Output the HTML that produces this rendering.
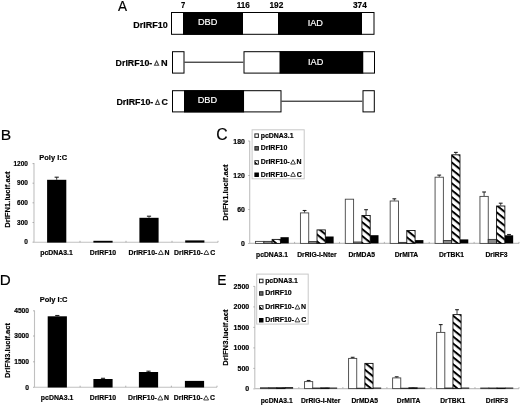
<!DOCTYPE html>
<html><head><meta charset="utf-8"><style>
html,body{margin:0;padding:0;background:#fff;}
svg{display:block;filter:grayscale(100%);}
text{stroke:#000;stroke-width:0.18px;}
text[fill="#fff"]{stroke:#fff;}
svg{font-family:"Liberation Sans",sans-serif;}
</style></head><body>
<svg width="520" height="405" viewBox="0 0 520 405">
<defs><linearGradient id="lgC" x1="0" y1="1" x2="1" y2="0"><stop offset="0.42" stop-color="#000"/><stop offset="0.42" stop-color="#fff"/></linearGradient><pattern id="stC" patternUnits="userSpaceOnUse" width="5.40" height="5.40" patternTransform="rotate(38.7)"><rect width="5.40" height="5.40" fill="#fff"/><rect width="5.40" height="2.00" fill="#000"/></pattern><pattern id="stCs" patternUnits="userSpaceOnUse" width="2.60" height="2.60" patternTransform="rotate(38.7)"><rect width="2.60" height="2.60" fill="#fff"/><rect width="2.60" height="0.96" fill="#000"/></pattern><linearGradient id="lgE" x1="0" y1="1" x2="1" y2="0"><stop offset="0.42" stop-color="#000"/><stop offset="0.42" stop-color="#fff"/></linearGradient><pattern id="stE" patternUnits="userSpaceOnUse" width="5.40" height="5.40" patternTransform="rotate(38.7)"><rect width="5.40" height="5.40" fill="#fff"/><rect width="5.40" height="2.00" fill="#000"/></pattern><pattern id="stEs" patternUnits="userSpaceOnUse" width="2.60" height="2.60" patternTransform="rotate(38.7)"><rect width="2.60" height="2.60" fill="#fff"/><rect width="2.60" height="0.96" fill="#000"/></pattern></defs>
<rect width="520" height="405" fill="#fff"/>
<text transform="translate(117.97,11.00) scale(0.934,1)" font-size="14.53" font-weight="normal" fill="#000">A</text>
<text transform="translate(180.97,7.70) scale(0.892,1)" font-size="8.60" font-weight="bold" fill="#000">7</text>
<text transform="translate(236.69,7.70) scale(0.948,1)" font-size="8.60" font-weight="bold" fill="#000">116</text>
<text transform="translate(269.48,7.70) scale(0.966,1)" font-size="8.60" font-weight="bold" fill="#000">192</text>
<text transform="translate(353.01,7.70) scale(0.964,1)" font-size="8.60" font-weight="bold" fill="#000">374</text>
<text transform="translate(133.20,27.60) scale(1.031,1)" font-size="8.72" font-weight="bold" fill="#000">DrIRF10</text>
<text transform="translate(115.61,66.00) scale(1.011,1)" font-size="8.72" font-weight="bold" fill="#000">DrIRF10-</text>
<polygon points="156.60,60.95 158.65,65.25 154.55,65.25" fill="none" stroke="#444" stroke-width="1.1" stroke-linejoin="miter"/>
<text transform="translate(160.99,66.00) scale(1.053,1)" font-size="8.72" font-weight="bold" fill="#000">N</text>
<text transform="translate(116.41,105.30) scale(1.017,1)" font-size="8.72" font-weight="bold" fill="#000">DrIRF10-</text>
<polygon points="157.50,100.05 159.45,104.45 155.55,104.45" fill="none" stroke="#444" stroke-width="1.1" stroke-linejoin="miter"/>
<text transform="translate(161.54,105.40) scale(1.017,1)" font-size="8.72" font-weight="bold" fill="#000">C</text>
<rect x="171.00" y="12.00" width="12.00" height="22.80" fill="#fff"/>
<rect x="183.00" y="12.00" width="60.00" height="22.80" fill="#000"/>
<rect x="243.00" y="12.00" width="35.00" height="22.80" fill="#fff"/>
<rect x="278.00" y="12.00" width="84.00" height="22.80" fill="#000"/>
<rect x="362.00" y="12.00" width="12.50" height="22.80" fill="#fff"/>
<rect x="171.50" y="12.50" width="202.50" height="21.80" fill="none" stroke="#000" stroke-width="1.0"/>
<text transform="translate(197.93,24.90) scale(1.000,1)" font-size="9.20" font-weight="normal" fill="#fff">DBD</text>
<text transform="translate(307.63,25.80) scale(1.000,1)" font-size="9.20" font-weight="normal" fill="#fff">IAD</text>
<rect x="172.00" y="51.20" width="12.50" height="22.40" fill="#fff"/>
<rect x="172.50" y="51.70" width="11.50" height="21.40" fill="none" stroke="#000" stroke-width="1.0"/>
<line x1="184.50" y1="62.20" x2="243.50" y2="62.20" stroke="#000" stroke-width="1.0"/>
<rect x="243.50" y="51.20" width="36.00" height="22.40" fill="#fff"/>
<rect x="279.50" y="51.20" width="84.00" height="22.40" fill="#000"/>
<rect x="363.50" y="51.20" width="11.50" height="22.40" fill="#fff"/>
<rect x="244.00" y="51.70" width="130.50" height="21.40" fill="none" stroke="#000" stroke-width="1.0"/>
<text transform="translate(308.03,64.80) scale(1.000,1)" font-size="9.20" font-weight="normal" fill="#fff">IAD</text>
<rect x="172.00" y="90.20" width="12.00" height="22.20" fill="#fff"/>
<rect x="184.00" y="90.20" width="60.20" height="22.20" fill="#000"/>
<rect x="244.20" y="90.20" width="37.30" height="22.20" fill="#fff"/>
<rect x="172.50" y="90.70" width="108.50" height="21.20" fill="none" stroke="#000" stroke-width="1.0"/>
<line x1="281.50" y1="101.20" x2="362.50" y2="101.20" stroke="#000" stroke-width="1.0"/>
<rect x="362.50" y="90.20" width="12.30" height="22.20" fill="#fff"/>
<rect x="363.00" y="90.70" width="11.30" height="21.20" fill="none" stroke="#000" stroke-width="1.0"/>
<text transform="translate(197.73,103.00) scale(1.000,1)" font-size="9.20" font-weight="normal" fill="#fff">DBD</text>
<text transform="translate(0.72,139.50) scale(1.022,1)" font-size="15.26" font-weight="normal" fill="#000">B</text>
<text transform="translate(39.30,159.90) scale(0.955,1)" font-size="7.85" font-weight="bold" fill="#000">Poly I:C</text>
<line x1="34.00" y1="163.00" x2="34.00" y2="242.30" stroke="#c0c0c0" stroke-width="1.1"/>
<line x1="34.00" y1="242.30" x2="218.00" y2="242.30" stroke="#c0c0c0" stroke-width="1.1"/>
<text transform="translate(13.51,165.64) scale(1.000,1)" font-size="6.50" font-weight="bold" fill="#000">1200</text>
<line x1="32.50" y1="163.60" x2="34.00" y2="163.60" stroke="#a0a0a0" stroke-width="0.8"/>
<text transform="translate(17.12,185.24) scale(1.000,1)" font-size="6.50" font-weight="bold" fill="#000">900</text>
<line x1="32.50" y1="183.20" x2="34.00" y2="183.20" stroke="#a0a0a0" stroke-width="0.8"/>
<text transform="translate(17.12,204.84) scale(1.000,1)" font-size="6.50" font-weight="bold" fill="#000">600</text>
<line x1="32.50" y1="202.80" x2="34.00" y2="202.80" stroke="#a0a0a0" stroke-width="0.8"/>
<text transform="translate(17.12,224.54) scale(1.000,1)" font-size="6.50" font-weight="bold" fill="#000">300</text>
<line x1="32.50" y1="222.50" x2="34.00" y2="222.50" stroke="#a0a0a0" stroke-width="0.8"/>
<text transform="translate(24.35,244.24) scale(1.000,1)" font-size="6.50" font-weight="bold" fill="#000">0</text>
<line x1="32.50" y1="242.20" x2="34.00" y2="242.20" stroke="#a0a0a0" stroke-width="0.8"/>
<line x1="80.00" y1="240.80" x2="80.00" y2="242.30" stroke="#a0a0a0" stroke-width="0.8"/>
<line x1="126.00" y1="240.80" x2="126.00" y2="242.30" stroke="#a0a0a0" stroke-width="0.8"/>
<line x1="172.00" y1="240.80" x2="172.00" y2="242.30" stroke="#a0a0a0" stroke-width="0.8"/>
<line x1="218.00" y1="240.80" x2="218.00" y2="242.30" stroke="#a0a0a0" stroke-width="0.8"/>
<rect x="47.10" y="179.80" width="19.20" height="62.80" fill="#000"/>
<line x1="56.70" y1="179.80" x2="56.70" y2="177.20" stroke="#222" stroke-width="0.9"/>
<line x1="54.60" y1="177.20" x2="58.80" y2="177.20" stroke="#222" stroke-width="1.1"/>
<rect x="93.40" y="240.80" width="19.20" height="1.80" fill="#000"/>
<rect x="139.40" y="217.80" width="19.20" height="24.80" fill="#000"/>
<line x1="149.00" y1="217.80" x2="149.00" y2="216.20" stroke="#222" stroke-width="0.9"/>
<line x1="146.90" y1="216.20" x2="151.10" y2="216.20" stroke="#222" stroke-width="1.1"/>
<rect x="185.20" y="240.40" width="19.20" height="2.20" fill="#000"/>
<text transform="translate(40.27,254.80) scale(1.000,1)" font-size="6.90" font-weight="bold" fill="#000">pcDNA3.1</text>
<text transform="translate(89.68,254.80) scale(1.000,1)" font-size="6.90" font-weight="bold" fill="#000">DrIRF10</text>
<text x="128.55" y="254.80" font-size="6.90" font-weight="bold" fill="#000">DrIRF10-</text>
<polygon points="160.83,250.18 163.31,254.47 158.36,254.47" fill="none" stroke="#222" stroke-width="0.85" stroke-linejoin="miter"/>
<text x="164.47" y="254.80" font-size="6.90" font-weight="bold" fill="#000">N</text>
<text x="174.12" y="254.80" font-size="6.90" font-weight="bold" fill="#000">DrIRF10-</text>
<polygon points="206.40,250.18 208.88,254.47 203.93,254.47" fill="none" stroke="#222" stroke-width="0.85" stroke-linejoin="miter"/>
<text x="210.22" y="254.80" font-size="6.90" font-weight="bold" fill="#000">C</text>
<text transform="translate(9.80,227.85) rotate(-90)" font-size="7.7" font-weight="bold">DrIFN1.lucif.act</text>
<text transform="translate(-0.25,284.80) scale(1.015,1)" font-size="14.97" font-weight="normal" fill="#000">D</text>
<text transform="translate(39.70,302.30) scale(0.973,1)" font-size="7.70" font-weight="bold" fill="#000">Poly I:C</text>
<line x1="34.50" y1="310.50" x2="34.50" y2="387.20" stroke="#c0c0c0" stroke-width="1.1"/>
<line x1="34.50" y1="387.20" x2="217.00" y2="387.20" stroke="#c0c0c0" stroke-width="1.1"/>
<text transform="translate(14.17,313.10) scale(1.000,1)" font-size="6.70" font-weight="bold" fill="#000">4500</text>
<line x1="33.00" y1="310.80" x2="34.50" y2="310.80" stroke="#a0a0a0" stroke-width="0.8"/>
<text transform="translate(14.17,338.30) scale(1.000,1)" font-size="6.70" font-weight="bold" fill="#000">3000</text>
<line x1="33.00" y1="336.00" x2="34.50" y2="336.00" stroke="#a0a0a0" stroke-width="0.8"/>
<text transform="translate(14.17,364.10) scale(1.000,1)" font-size="6.70" font-weight="bold" fill="#000">1500</text>
<line x1="33.00" y1="361.80" x2="34.50" y2="361.80" stroke="#a0a0a0" stroke-width="0.8"/>
<text transform="translate(25.35,389.60) scale(1.000,1)" font-size="6.70" font-weight="bold" fill="#000">0</text>
<line x1="33.00" y1="387.30" x2="34.50" y2="387.30" stroke="#a0a0a0" stroke-width="0.8"/>
<line x1="80.12" y1="385.70" x2="80.12" y2="387.20" stroke="#a0a0a0" stroke-width="0.8"/>
<line x1="125.75" y1="385.70" x2="125.75" y2="387.20" stroke="#a0a0a0" stroke-width="0.8"/>
<line x1="171.38" y1="385.70" x2="171.38" y2="387.20" stroke="#a0a0a0" stroke-width="0.8"/>
<line x1="217.00" y1="385.70" x2="217.00" y2="387.20" stroke="#a0a0a0" stroke-width="0.8"/>
<rect x="47.70" y="316.30" width="19.20" height="71.20" fill="#000"/>
<line x1="57.30" y1="316.30" x2="57.30" y2="315.50" stroke="#222" stroke-width="0.9"/>
<line x1="55.20" y1="315.50" x2="59.40" y2="315.50" stroke="#222" stroke-width="1.1"/>
<rect x="93.40" y="379.00" width="19.20" height="8.50" fill="#000"/>
<line x1="103.00" y1="379.00" x2="103.00" y2="378.30" stroke="#222" stroke-width="0.9"/>
<line x1="100.90" y1="378.30" x2="105.10" y2="378.30" stroke="#222" stroke-width="1.1"/>
<rect x="138.90" y="372.00" width="19.20" height="15.50" fill="#000"/>
<line x1="148.50" y1="372.00" x2="148.50" y2="371.20" stroke="#222" stroke-width="0.9"/>
<line x1="146.40" y1="371.20" x2="150.60" y2="371.20" stroke="#222" stroke-width="1.1"/>
<rect x="184.90" y="380.90" width="19.20" height="6.60" fill="#000"/>
<text transform="translate(40.87,400.30) scale(1.000,1)" font-size="6.90" font-weight="bold" fill="#000">pcDNA3.1</text>
<text transform="translate(89.68,400.30) scale(1.000,1)" font-size="6.90" font-weight="bold" fill="#000">DrIRF10</text>
<text x="128.05" y="400.30" font-size="6.90" font-weight="bold" fill="#000">DrIRF10-</text>
<polygon points="160.33,395.68 162.81,399.98 157.86,399.98" fill="none" stroke="#222" stroke-width="0.85" stroke-linejoin="miter"/>
<text x="163.97" y="400.30" font-size="6.90" font-weight="bold" fill="#000">N</text>
<text x="173.82" y="400.30" font-size="6.90" font-weight="bold" fill="#000">DrIRF10-</text>
<polygon points="206.10,395.68 208.58,399.98 203.63,399.98" fill="none" stroke="#222" stroke-width="0.85" stroke-linejoin="miter"/>
<text x="209.92" y="400.30" font-size="6.90" font-weight="bold" fill="#000">C</text>
<text transform="translate(9.80,378.11) rotate(-90)" font-size="7.5" font-weight="bold">DrIFN3.lucif.act</text>
<text transform="translate(216.20,140.00) scale(0.988,1)" font-size="15.99" font-weight="normal" fill="#000">C</text>
<line x1="249.70" y1="141.00" x2="249.70" y2="243.40" stroke="#c0c0c0" stroke-width="1.1"/>
<line x1="249.70" y1="243.40" x2="519.00" y2="243.40" stroke="#c0c0c0" stroke-width="1.1"/>
<text transform="translate(233.37,143.77) scale(1.000,1)" font-size="6.90" font-weight="bold" fill="#000">180</text>
<line x1="248.20" y1="141.00" x2="249.70" y2="141.00" stroke="#a0a0a0" stroke-width="0.8"/>
<text transform="translate(233.37,178.27) scale(1.000,1)" font-size="6.90" font-weight="bold" fill="#000">120</text>
<line x1="248.20" y1="175.50" x2="249.70" y2="175.50" stroke="#a0a0a0" stroke-width="0.8"/>
<text transform="translate(237.21,212.27) scale(1.000,1)" font-size="6.90" font-weight="bold" fill="#000">60</text>
<line x1="248.20" y1="209.50" x2="249.70" y2="209.50" stroke="#a0a0a0" stroke-width="0.8"/>
<text transform="translate(241.05,246.27) scale(1.000,1)" font-size="6.90" font-weight="bold" fill="#000">0</text>
<line x1="248.20" y1="243.50" x2="249.70" y2="243.50" stroke="#a0a0a0" stroke-width="0.8"/>
<line x1="294.58" y1="241.90" x2="294.58" y2="243.40" stroke="#a0a0a0" stroke-width="0.8"/>
<line x1="339.47" y1="241.90" x2="339.47" y2="243.40" stroke="#a0a0a0" stroke-width="0.8"/>
<line x1="384.35" y1="241.90" x2="384.35" y2="243.40" stroke="#a0a0a0" stroke-width="0.8"/>
<line x1="429.23" y1="241.90" x2="429.23" y2="243.40" stroke="#a0a0a0" stroke-width="0.8"/>
<line x1="474.12" y1="241.90" x2="474.12" y2="243.40" stroke="#a0a0a0" stroke-width="0.8"/>
<line x1="519.00" y1="241.90" x2="519.00" y2="243.40" stroke="#a0a0a0" stroke-width="0.8"/>
<rect x="255.53" y="241.40" width="8.30" height="2.00" fill="#fff" stroke="#444" stroke-width="0.9"/>
<rect x="263.84" y="241.40" width="8.30" height="2.00" fill="#8a8a8a" stroke="#333" stroke-width="0.9"/>
<rect x="272.14" y="239.40" width="8.30" height="4.00" fill="url(#stC)" stroke="#111" stroke-width="0.9"/>
<rect x="280.45" y="237.20" width="8.30" height="6.20" fill="#000"/>
<text transform="translate(256.07,257.10) scale(1.000,1)" font-size="6.75" font-weight="bold" fill="#000">pcDNA3.1</text>
<rect x="300.42" y="212.90" width="8.30" height="30.50" fill="#fff" stroke="#444" stroke-width="0.9"/>
<line x1="304.57" y1="212.50" x2="304.57" y2="210.50" stroke="#222" stroke-width="0.9"/>
<line x1="302.67" y1="210.50" x2="306.47" y2="210.50" stroke="#222" stroke-width="1.1"/>
<rect x="308.72" y="241.60" width="8.30" height="1.80" fill="#8a8a8a" stroke="#333" stroke-width="0.9"/>
<rect x="317.02" y="229.90" width="8.30" height="13.50" fill="url(#stC)" stroke="#111" stroke-width="0.9"/>
<rect x="325.33" y="236.50" width="8.30" height="6.90" fill="#000"/>
<text transform="translate(297.16,257.10) scale(1.000,1)" font-size="6.75" font-weight="bold" fill="#000">DrRIG-I-Nter</text>
<rect x="345.30" y="199.20" width="8.30" height="44.20" fill="#fff" stroke="#444" stroke-width="0.9"/>
<rect x="353.60" y="242.00" width="8.30" height="1.40" fill="#8a8a8a" stroke="#333" stroke-width="0.9"/>
<rect x="361.91" y="215.50" width="8.30" height="27.90" fill="url(#stC)" stroke="#111" stroke-width="0.9"/>
<line x1="366.06" y1="215.10" x2="366.06" y2="209.70" stroke="#222" stroke-width="0.9"/>
<line x1="364.16" y1="209.70" x2="367.96" y2="209.70" stroke="#222" stroke-width="1.1"/>
<rect x="370.21" y="235.20" width="8.30" height="8.20" fill="#000"/>
<text transform="translate(348.46,257.10) scale(1.000,1)" font-size="6.75" font-weight="bold" fill="#000">DrMDA5</text>
<rect x="390.18" y="201.00" width="8.30" height="42.40" fill="#fff" stroke="#444" stroke-width="0.9"/>
<line x1="394.34" y1="200.60" x2="394.34" y2="198.80" stroke="#222" stroke-width="0.9"/>
<line x1="392.44" y1="198.80" x2="396.24" y2="198.80" stroke="#222" stroke-width="1.1"/>
<rect x="398.49" y="242.40" width="8.30" height="1.00" fill="#8a8a8a" stroke="#333" stroke-width="0.9"/>
<rect x="406.79" y="230.50" width="8.30" height="12.90" fill="url(#stC)" stroke="#111" stroke-width="0.9"/>
<rect x="415.10" y="240.10" width="8.30" height="3.30" fill="#000"/>
<text transform="translate(394.66,257.10) scale(1.000,1)" font-size="6.75" font-weight="bold" fill="#000">DrMITA</text>
<rect x="435.07" y="177.20" width="8.30" height="66.20" fill="#fff" stroke="#444" stroke-width="0.9"/>
<line x1="439.22" y1="176.80" x2="439.22" y2="175.10" stroke="#222" stroke-width="0.9"/>
<line x1="437.32" y1="175.10" x2="441.12" y2="175.10" stroke="#222" stroke-width="1.1"/>
<rect x="443.37" y="240.50" width="8.30" height="2.90" fill="#8a8a8a" stroke="#333" stroke-width="0.9"/>
<rect x="451.68" y="154.80" width="8.30" height="88.60" fill="url(#stC)" stroke="#111" stroke-width="0.9"/>
<line x1="455.83" y1="154.40" x2="455.83" y2="152.40" stroke="#222" stroke-width="0.9"/>
<line x1="453.93" y1="152.40" x2="457.73" y2="152.40" stroke="#222" stroke-width="1.1"/>
<rect x="459.98" y="239.40" width="8.30" height="4.00" fill="#000"/>
<text transform="translate(438.98,257.10) scale(1.000,1)" font-size="6.75" font-weight="bold" fill="#000">DrTBK1</text>
<rect x="479.95" y="196.40" width="8.30" height="47.00" fill="#fff" stroke="#444" stroke-width="0.9"/>
<line x1="484.10" y1="196.00" x2="484.10" y2="192.00" stroke="#222" stroke-width="0.9"/>
<line x1="482.20" y1="192.00" x2="486.00" y2="192.00" stroke="#222" stroke-width="1.1"/>
<rect x="488.25" y="239.40" width="8.30" height="4.00" fill="#8a8a8a" stroke="#333" stroke-width="0.9"/>
<rect x="496.56" y="206.00" width="8.30" height="37.40" fill="url(#stC)" stroke="#111" stroke-width="0.9"/>
<line x1="500.71" y1="205.60" x2="500.71" y2="203.20" stroke="#222" stroke-width="0.9"/>
<line x1="498.81" y1="203.20" x2="502.61" y2="203.20" stroke="#222" stroke-width="1.1"/>
<rect x="504.86" y="235.30" width="8.30" height="8.10" fill="#000"/>
<line x1="509.01" y1="235.30" x2="509.01" y2="234.50" stroke="#222" stroke-width="0.9"/>
<line x1="507.11" y1="234.50" x2="510.91" y2="234.50" stroke="#222" stroke-width="1.1"/>
<text transform="translate(485.39,257.10) scale(1.000,1)" font-size="6.75" font-weight="bold" fill="#000">DrIRF3</text>
<text transform="translate(227.90,220.75) rotate(-90)" font-size="7.7" font-weight="bold">DrIFN1.lucif.act</text>
<rect x="252.10" y="129.80" width="52.10" height="49.00" fill="#fff" stroke="#c8c8c8" stroke-width="1.0"/>
<rect x="254.90" y="133.90" width="3.50" height="3.50" fill="#fff" stroke="#222" stroke-width="1.0"/>
<text x="260.74" y="137.60" font-size="6.95" font-weight="bold">pcDNA3.1</text>
<rect x="254.90" y="146.60" width="3.50" height="3.50" fill="#666" stroke="#222" stroke-width="1.0"/>
<text x="260.74" y="150.30" font-size="6.95" font-weight="bold">DrIRF10</text>
<rect x="254.90" y="160.70" width="3.50" height="3.50" fill="url(#lgC)" stroke="#222" stroke-width="1.0"/>
<text x="260.74" y="164.40" font-size="6.95" font-weight="bold">DrIRF10-</text>
<polygon points="293.02,159.74 295.40,164.07 290.65,164.07" fill="none" stroke="#222" stroke-width="0.85" stroke-linejoin="miter"/>
<text x="296.56" y="164.40" font-size="6.95" font-weight="bold">N</text>
<rect x="254.90" y="173.00" width="3.50" height="3.50" fill="#000" stroke="#000" stroke-width="1.0"/>
<text x="260.74" y="176.70" font-size="6.95" font-weight="bold">DrIRF10-</text>
<polygon points="293.02,172.04 295.40,176.37 290.65,176.37" fill="none" stroke="#222" stroke-width="0.85" stroke-linejoin="miter"/>
<text x="296.74" y="176.70" font-size="6.95" font-weight="bold">C</text>
<text transform="translate(217.36,285.00) scale(0.907,1)" font-size="15.26" font-weight="normal" fill="#000">E</text>
<line x1="254.80" y1="286.20" x2="254.80" y2="388.60" stroke="#c0c0c0" stroke-width="1.1"/>
<line x1="254.80" y1="388.60" x2="519.00" y2="388.60" stroke="#c0c0c0" stroke-width="1.1"/>
<text transform="translate(233.61,288.71) scale(1.000,1)" font-size="7.00" font-weight="bold" fill="#000">2500</text>
<line x1="253.30" y1="286.40" x2="254.80" y2="286.40" stroke="#a0a0a0" stroke-width="0.8"/>
<text transform="translate(233.61,309.21) scale(1.000,1)" font-size="7.00" font-weight="bold" fill="#000">2000</text>
<line x1="253.30" y1="306.90" x2="254.80" y2="306.90" stroke="#a0a0a0" stroke-width="0.8"/>
<text transform="translate(233.61,329.71) scale(1.000,1)" font-size="7.00" font-weight="bold" fill="#000">1500</text>
<line x1="253.30" y1="327.40" x2="254.80" y2="327.40" stroke="#a0a0a0" stroke-width="0.8"/>
<text transform="translate(233.61,350.21) scale(1.000,1)" font-size="7.00" font-weight="bold" fill="#000">1000</text>
<line x1="253.30" y1="347.90" x2="254.80" y2="347.90" stroke="#a0a0a0" stroke-width="0.8"/>
<text transform="translate(237.51,370.71) scale(1.000,1)" font-size="7.00" font-weight="bold" fill="#000">500</text>
<line x1="253.30" y1="368.40" x2="254.80" y2="368.40" stroke="#a0a0a0" stroke-width="0.8"/>
<text transform="translate(245.29,391.21) scale(1.000,1)" font-size="7.00" font-weight="bold" fill="#000">0</text>
<line x1="253.30" y1="388.90" x2="254.80" y2="388.90" stroke="#a0a0a0" stroke-width="0.8"/>
<line x1="298.83" y1="387.10" x2="298.83" y2="388.60" stroke="#a0a0a0" stroke-width="0.8"/>
<line x1="342.87" y1="387.10" x2="342.87" y2="388.60" stroke="#a0a0a0" stroke-width="0.8"/>
<line x1="386.90" y1="387.10" x2="386.90" y2="388.60" stroke="#a0a0a0" stroke-width="0.8"/>
<line x1="430.93" y1="387.10" x2="430.93" y2="388.60" stroke="#a0a0a0" stroke-width="0.8"/>
<line x1="474.97" y1="387.10" x2="474.97" y2="388.60" stroke="#a0a0a0" stroke-width="0.8"/>
<line x1="519.00" y1="387.10" x2="519.00" y2="388.60" stroke="#a0a0a0" stroke-width="0.8"/>
<rect x="260.52" y="387.70" width="8.15" height="0.90" fill="#fff" stroke="#444" stroke-width="0.9"/>
<rect x="268.67" y="387.70" width="8.15" height="0.90" fill="#8a8a8a" stroke="#333" stroke-width="0.9"/>
<rect x="276.82" y="387.70" width="8.15" height="0.90" fill="url(#stE)" stroke="#111" stroke-width="0.9"/>
<rect x="284.96" y="387.20" width="8.15" height="1.40" fill="#000"/>
<text transform="translate(260.75,402.60) scale(1.000,1)" font-size="6.75" font-weight="bold" fill="#000">pcDNA3.1</text>
<rect x="304.56" y="381.60" width="8.15" height="7.00" fill="#fff" stroke="#444" stroke-width="0.9"/>
<line x1="308.63" y1="381.20" x2="308.63" y2="380.50" stroke="#222" stroke-width="0.9"/>
<line x1="306.73" y1="380.50" x2="310.53" y2="380.50" stroke="#222" stroke-width="1.1"/>
<rect x="312.70" y="388.00" width="8.15" height="0.60" fill="#8a8a8a" stroke="#333" stroke-width="0.9"/>
<rect x="320.85" y="387.80" width="8.15" height="0.80" fill="url(#stE)" stroke="#111" stroke-width="0.9"/>
<rect x="329.00" y="387.60" width="8.15" height="1.00" fill="#000"/>
<text transform="translate(300.99,402.60) scale(1.000,1)" font-size="6.75" font-weight="bold" fill="#000">DrRIG-I-Nter</text>
<rect x="348.59" y="358.40" width="8.15" height="30.20" fill="#fff" stroke="#444" stroke-width="0.9"/>
<line x1="352.66" y1="358.00" x2="352.66" y2="357.30" stroke="#222" stroke-width="0.9"/>
<line x1="350.76" y1="357.30" x2="354.56" y2="357.30" stroke="#222" stroke-width="1.1"/>
<rect x="356.74" y="388.20" width="8.15" height="0.40" fill="#8a8a8a" stroke="#333" stroke-width="0.9"/>
<rect x="364.88" y="363.40" width="8.15" height="25.20" fill="url(#stE)" stroke="#111" stroke-width="0.9"/>
<rect x="373.03" y="387.60" width="8.15" height="1.00" fill="#000"/>
<text transform="translate(351.44,402.60) scale(1.000,1)" font-size="6.75" font-weight="bold" fill="#000">DrMDA5</text>
<rect x="392.62" y="377.90" width="8.15" height="10.70" fill="#fff" stroke="#444" stroke-width="0.9"/>
<line x1="396.70" y1="377.50" x2="396.70" y2="376.80" stroke="#222" stroke-width="0.9"/>
<line x1="394.80" y1="376.80" x2="398.60" y2="376.80" stroke="#222" stroke-width="1.1"/>
<rect x="400.77" y="388.20" width="8.15" height="0.40" fill="#8a8a8a" stroke="#333" stroke-width="0.9"/>
<rect x="408.92" y="387.70" width="8.15" height="0.90" fill="url(#stE)" stroke="#111" stroke-width="0.9"/>
<rect x="417.06" y="387.70" width="8.15" height="0.90" fill="#000"/>
<text transform="translate(396.78,402.60) scale(1.000,1)" font-size="6.75" font-weight="bold" fill="#000">DrMITA</text>
<rect x="436.66" y="332.40" width="8.15" height="56.20" fill="#fff" stroke="#444" stroke-width="0.9"/>
<line x1="440.73" y1="332.00" x2="440.73" y2="324.60" stroke="#222" stroke-width="0.9"/>
<line x1="438.83" y1="324.60" x2="442.63" y2="324.60" stroke="#222" stroke-width="1.1"/>
<rect x="444.80" y="388.00" width="8.15" height="0.60" fill="#8a8a8a" stroke="#333" stroke-width="0.9"/>
<rect x="452.95" y="314.60" width="8.15" height="74.00" fill="url(#stE)" stroke="#111" stroke-width="0.9"/>
<line x1="457.02" y1="314.20" x2="457.02" y2="309.70" stroke="#222" stroke-width="0.9"/>
<line x1="455.12" y1="309.70" x2="458.92" y2="309.70" stroke="#222" stroke-width="1.1"/>
<rect x="461.10" y="387.60" width="8.15" height="1.00" fill="#000"/>
<text transform="translate(440.25,402.60) scale(1.000,1)" font-size="6.75" font-weight="bold" fill="#000">DrTBK1</text>
<rect x="480.69" y="388.00" width="8.15" height="0.60" fill="#fff" stroke="#444" stroke-width="0.9"/>
<rect x="488.84" y="388.00" width="8.15" height="0.60" fill="#8a8a8a" stroke="#333" stroke-width="0.9"/>
<rect x="496.98" y="388.00" width="8.15" height="0.60" fill="url(#stE)" stroke="#111" stroke-width="0.9"/>
<rect x="505.13" y="387.60" width="8.15" height="1.00" fill="#000"/>
<text transform="translate(485.82,402.60) scale(1.000,1)" font-size="6.75" font-weight="bold" fill="#000">DrIRF3</text>
<text transform="translate(228.40,365.75) rotate(-90)" font-size="7.7" font-weight="bold">DrIFN3.lucif.act</text>
<rect x="256.70" y="274.10" width="51.50" height="50.00" fill="#fff" stroke="#c8c8c8" stroke-width="1.0"/>
<rect x="259.50" y="279.20" width="3.50" height="3.50" fill="#fff" stroke="#222" stroke-width="1.0"/>
<text x="265.14" y="282.90" font-size="6.95" font-weight="bold">pcDNA3.1</text>
<rect x="259.50" y="291.70" width="3.50" height="3.50" fill="#666" stroke="#222" stroke-width="1.0"/>
<text x="265.14" y="295.40" font-size="6.95" font-weight="bold">DrIRF10</text>
<rect x="259.50" y="305.70" width="3.50" height="3.50" fill="url(#lgE)" stroke="#222" stroke-width="1.0"/>
<text x="265.14" y="309.40" font-size="6.95" font-weight="bold">DrIRF10-</text>
<polygon points="297.42,304.74 299.80,309.07 295.05,309.07" fill="none" stroke="#222" stroke-width="0.85" stroke-linejoin="miter"/>
<text x="300.96" y="309.40" font-size="6.95" font-weight="bold">N</text>
<rect x="259.50" y="318.50" width="3.50" height="3.50" fill="#000" stroke="#000" stroke-width="1.0"/>
<text x="265.14" y="322.20" font-size="6.95" font-weight="bold">DrIRF10-</text>
<polygon points="297.42,317.54 299.80,321.88 295.05,321.88" fill="none" stroke="#222" stroke-width="0.85" stroke-linejoin="miter"/>
<text x="301.14" y="322.20" font-size="6.95" font-weight="bold">C</text>
</svg>
</body></html>
